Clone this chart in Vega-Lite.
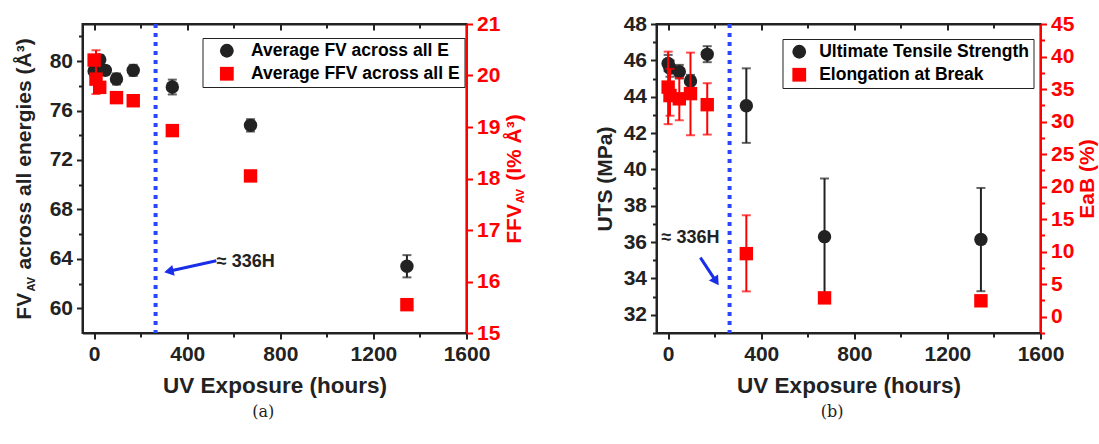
{
  "$schema": "https://vega.github.io/schema/vega-lite/v6.json",
  "background": "white",
  "padding": {"left": 11.5, "top": 12, "right": 0, "bottom": 0},
  "datasets": {
    "fv": [
      {"h": 0, "v": 79.2, "lo": 78.8, "hi": 79.6, "series": "Average FV across all E"},
      {"h": 24, "v": 80.1, "lo": 79.7, "hi": 80.5, "series": "Average FV across all E"},
      {"h": 48, "v": 79.25, "lo": 78.9, "hi": 79.6, "series": "Average FV across all E"},
      {"h": 96, "v": 78.55, "lo": 78.1, "hi": 79.0, "series": "Average FV across all E"},
      {"h": 168, "v": 79.25, "lo": 78.8, "hi": 79.7, "series": "Average FV across all E"},
      {"h": 336, "v": 77.9, "lo": 77.3, "hi": 78.5, "series": "Average FV across all E"},
      {"h": 672, "v": 74.8, "lo": 74.3, "hi": 75.3, "series": "Average FV across all E"},
      {"h": 1344, "v": 63.4, "lo": 62.5, "hi": 64.3, "series": "Average FV across all E"}
    ],
    "ffv": [
      {"h": 0, "v": 20.3, "lo": 20.2, "hi": 20.4, "series": "Average FFV across all E"},
      {"h": 8, "v": 19.93, "lo": 19.64, "hi": 20.49, "series": "Average FFV across all E"},
      {"h": 24, "v": 19.77, "lo": 19.7, "hi": 19.84, "series": "Average FFV across all E"},
      {"h": 96, "v": 19.57, "lo": 19.52, "hi": 19.62, "series": "Average FFV across all E"},
      {"h": 168, "v": 19.51, "lo": 19.46, "hi": 19.56, "series": "Average FFV across all E"},
      {"h": 336, "v": 18.93, "lo": 18.9, "hi": 18.96, "series": "Average FFV across all E"},
      {"h": 672, "v": 18.05, "lo": 18.02, "hi": 18.08, "series": "Average FFV across all E"},
      {"h": 1344, "v": 15.55, "lo": 15.5, "hi": 15.6, "series": "Average FFV across all E"}
    ],
    "uts": [
      {"h": 0, "v": 45.83, "lo": 45.4, "hi": 46.3, "series": "Ultimate Tensile Strength"},
      {"h": 8, "v": 45.56, "lo": 45.1, "hi": 46.0, "series": "Ultimate Tensile Strength"},
      {"h": 48, "v": 45.37, "lo": 45.0, "hi": 45.75, "series": "Ultimate Tensile Strength"},
      {"h": 96, "v": 44.86, "lo": 44.5, "hi": 45.2, "series": "Ultimate Tensile Strength"},
      {"h": 168, "v": 46.33, "lo": 45.9, "hi": 46.78, "series": "Ultimate Tensile Strength"},
      {"h": 336, "v": 43.5, "lo": 41.46, "hi": 45.56, "series": "Ultimate Tensile Strength"},
      {"h": 672, "v": 36.3, "lo": 33.1, "hi": 39.5, "series": "Ultimate Tensile Strength"},
      {"h": 1344, "v": 36.15, "lo": 33.3, "hi": 38.98, "series": "Ultimate Tensile Strength"}
    ],
    "eab": [
      {"h": 0, "v": 35.3, "lo": 29.6, "hi": 40.75, "series": "Elongation at Break"},
      {"h": 8, "v": 34.0, "lo": 30.9, "hi": 38.1, "series": "Elongation at Break"},
      {"h": 48, "v": 33.5, "lo": 30.2, "hi": 36.7, "series": "Elongation at Break"},
      {"h": 96, "v": 34.3, "lo": 27.9, "hi": 40.6, "series": "Elongation at Break"},
      {"h": 168, "v": 32.6, "lo": 28.0, "hi": 35.9, "series": "Elongation at Break"},
      {"h": 336, "v": 9.7, "lo": 3.9, "hi": 15.6, "series": "Elongation at Break"},
      {"h": 672, "v": 2.9, "lo": 2.4, "hi": 3.4, "series": "Elongation at Break"},
      {"h": 1344, "v": 2.45, "lo": 2.0, "hi": 2.9, "series": "Elongation at Break"}
    ],
    "threshold": [
      {"h": 264, "note": "≈ 336H"}
    ]
  },
  "config": {
    "font": "Liberation Sans",
    "view": {"stroke": "#222222", "strokeWidth": 2},
    "axis": {
      "grid": false,
      "tickCount": 60,
      "format": "d",
      "labelFont": "Liberation Sans",
      "labelFontWeight": "bold",
      "labelFontSize": 21,
      "labelColor": "#222222",
      "labelOverlap": false,
      "labelFlush": false,
      "labelPadding": 4,
      "titleFont": "Liberation Sans",
      "titleFontWeight": "bold",
      "titleFontSize": 21,
      "titleColor": "#222222",
      "domainColor": "#222222",
      "domainWidth": 2,
      "tickColor": "#222222",
      "tickWidth": 2
    },
    "legend": {
      "orient": "none",
      "title": null,
      "padding": 4,
      "rowPadding": 4,
      "symbolSize": 190,
      "symbolStrokeWidth": 0,
      "labelFont": "Liberation Sans",
      "labelFontSize": 17.5,
      "labelFontWeight": "bold",
      "labelLimit": 400,
      "strokeColor": "#222222",
      "fillColor": "white"
    }
  },
  "spacing": 66,
  "resolve": {
    "scale": {"color": "independent", "shape": "independent"},
    "legend": {"color": "independent", "shape": "independent"}
  },
  "hconcat": [
    {
      "title": {"text": "(a)", "orient": "bottom", "anchor": "middle", "font": "DejaVu Serif", "fontSize": 16, "fontWeight": "normal", "color": "#222222", "offset": 6, "dx": -6},
      "hconcat": [
        {
          "width": 384,
          "height": 309,
          "title": {"text": "AV", "orient": "left", "frame": "group", "anchor": "start", "offset": -24, "dx": 41.5, "font": "Liberation Sans", "fontSize": 11, "fontWeight": "bold", "color": "#222222"},
          "resolve": {"scale": {"y": "independent"}, "axis": {"x": "independent"}},
          "layer": [
            {
              "encoding": {
                "x": {
                  "field": "h", "type": "quantitative",
                  "scale": {"domain": [-50, 1600], "nice": false, "zero": false},
                  "axis": {
                    "orient": "bottom",
                    "title": "UV Exposure (hours)",
                    "titleFontSize": 22.5,
                    "titlePadding": 10,
                    "format": "d",
                    "values": [0, 200, 400, 600, 800, 1000, 1200, 1400, 1600],
                    "labelExpr": "datum.value % 400 === 0 ? datum.label : ''",
                    "tickSize": {"condition": {"test": "datum.value % 400 === 0", "value": 6}, "value": 4}
                  }
                }
              },
              "layer": [
                {
                  "data": {"name": "fv"},
                  "mark": {"type": "rule", "color": "#222222", "strokeWidth": 2},
                  "encoding": {
                    "y": {
                      "field": "lo", "type": "quantitative",
                      "scale": {"domain": [58, 83], "nice": false, "zero": false},
                      "title": "FV\u00a0\u00a0\u00a0\u00a0across all energies (Å³)",
                      "axis": {
                        "orient": "left",
                        "format": "d",
                        "titlePadding": 15,
                        "values": [60, 62, 64, 66, 68, 70, 72, 74, 76, 78, 80, 82],
                        "labelExpr": "datum.value % 4 === 0 ? datum.label : ''",
                        "tickSize": {"condition": {"test": "datum.value % 4 === 0", "value": 6}, "value": 4}
                      }
                    },
                    "y2": {"field": "hi"}
                  }
                },
                {
                  "data": {"name": "threshold"},
                  "mark": {"type": "rule", "color": "#2a45ff", "strokeWidth": 4, "strokeDash": [4, 5]},
                  "encoding": {}
                },
                {
                  "data": {"name": "fv"},
                  "mark": {"type": "tick", "orient": "horizontal", "color": "#222222", "size": 9, "thickness": 2},
                  "encoding": {"y": {"field": "lo", "type": "quantitative"}}
                },
                {
                  "data": {"name": "fv"},
                  "mark": {"type": "tick", "orient": "horizontal", "color": "#222222", "size": 9, "thickness": 2},
                  "encoding": {"y": {"field": "hi", "type": "quantitative"}}
                },
                {
                  "data": {"name": "fv"},
                  "mark": {"type": "point", "filled": true, "opacity": 1, "size": 180},
                  "encoding": {
                    "y": {"field": "v", "type": "quantitative"},
                    "color": {
                      "field": "series", "type": "nominal",
                      "scale": {"domain": ["Average FV across all E", "Average FFV across all E"], "range": ["#222222", "#ff0000"]},
                      "legend": {
                        "legendX": 120, "legendY": 14,
                        "symbolOffset": 11.6,
                        "labelOffset": 15.5,
                        "encode": {
                          "labels": {"update": {"fill": {"signal": "datum.value === 'Average FFV across all E' ? '#ff0000' : '#222222'"}}},
                          "legend": {"update": {"strokeWidth": {"value": 2.5}}}
                        }
                      }
                    },
                    "shape": {
                      "field": "series", "type": "nominal",
                      "scale": {"domain": ["Average FV across all E", "Average FFV across all E"], "range": ["circle", "square"]},
                      "legend": {
                        "legendX": 120, "legendY": 14,
                        "symbolOffset": 11.6,
                        "labelOffset": 15.5,
                        "encode": {
                          "labels": {"update": {"fill": {"signal": "datum.value === 'Average FFV across all E' ? '#ff0000' : '#222222'"}}},
                          "legend": {"update": {"strokeWidth": {"value": 2.5}}}
                        }
                      }
                    }
                  }
                },
                {
                  "data": {"name": "threshold"},
                  "mark": {"type": "rule", "color": "#1a2ee8", "strokeWidth": 3},
                  "encoding": {
                    "x": {"datum": 525, "type": "quantitative"},
                    "y": {"datum": 63.84, "type": "quantitative"},
                    "x2": {"datum": 321},
                    "y2": {"datum": 62.99}
                  }
                },
                {
                  "data": {"name": "threshold"},
                  "mark": {"type": "point", "shape": "triangle-up", "filled": true, "opacity": 1, "color": "#1a2ee8", "size": 120, "angle": 257.6},
                  "encoding": {
                    "x": {"datum": 321, "type": "quantitative"},
                    "y": {"datum": 62.99, "type": "quantitative"}
                  }
                },
                {
                  "data": {"name": "threshold"},
                  "mark": {"type": "text", "align": "left", "baseline": "middle", "font": "Liberation Sans", "fontSize": 18, "fontWeight": "bold", "color": "#222222"},
                  "encoding": {
                    "x": {"datum": 527, "type": "quantitative"},
                    "y": {"datum": 63.76, "type": "quantitative"},
                    "text": {"field": "note"}
                  }
                }
              ]
            },
            {
              "data": {"name": "ffv"},
              "encoding": {
                "x": {
                  "field": "h", "type": "quantitative",
                  "scale": {"domain": [-50, 1600], "nice": false, "zero": false},
                  "axis": {
                    "orient": "top",
                    "labels": false,
                    "title": "AV",
                    "titleColor": "#ff0000",
                    "titleFontSize": 11,
                    "titleAngle": 270,
                    "titleAlign": "left",
                    "titleBaseline": "top",
                    "titleX": 432,
                    "titleY": 178.8,
                    "values": [0, 200, 400, 600, 800, 1000, 1200, 1400, 1600],
                    "tickSize": {"condition": {"test": "datum.value % 400 === 0", "value": -6}, "value": -4}
                  }
                }
              },
              "layer": [
                {
                  "mark": {"type": "rule", "color": "#ff0000", "strokeWidth": 2},
                  "encoding": {
                    "y": {
                      "field": "lo", "type": "quantitative",
                      "scale": {"domain": [15, 21], "nice": false, "zero": false},
                      "title": "FFV\u00a0\u00a0\u00a0\u00a0(I% Å³)",
                      "axis": {
                        "orient": "right",
                        "format": "d",
                        "titleColor": "#ff0000",
                        "titleAngle": 270,
                        "titleBaseline": "top",
                        "titlePadding": 4,
                        "labelColor": "#ff0000",
                        "domainColor": "#ff0000",
                        "tickColor": "#ff0000",
                        "values": [15, 15.5, 16, 16.5, 17, 17.5, 18, 18.5, 19, 19.5, 20, 20.5, 21],
                        "labelExpr": "datum.value % 1 === 0 ? datum.label : ''",
                        "tickSize": {"condition": {"test": "datum.value % 1 === 0", "value": 6}, "value": 4}
                      }
                    },
                    "y2": {"field": "hi"}
                  }
                },
                {
                  "mark": {"type": "tick", "orient": "horizontal", "color": "#ff0000", "size": 9, "thickness": 2},
                  "encoding": {"y": {"field": "lo", "type": "quantitative"}}
                },
                {
                  "mark": {"type": "tick", "orient": "horizontal", "color": "#ff0000", "size": 9, "thickness": 2},
                  "encoding": {"y": {"field": "hi", "type": "quantitative"}}
                },
                {
                  "mark": {"type": "point", "filled": true, "opacity": 1, "size": 180},
                  "encoding": {
                    "y": {"field": "v", "type": "quantitative"},
                    "color": {"field": "series", "type": "nominal"},
                    "shape": {"field": "series", "type": "nominal"}
                  }
                }
              ]
            }
          ]
        }
      ]
    },
    {
      "title": {"text": "(b)", "orient": "bottom", "anchor": "middle", "font": "DejaVu Serif", "fontSize": 16, "fontWeight": "normal", "color": "#222222", "offset": 6, "dx": -14},
      "hconcat": [
        {
          "width": 384,
          "height": 309,
          "resolve": {"scale": {"y": "independent"}, "axis": {"x": "independent"}},
          "layer": [
            {
              "encoding": {
                "x": {
                  "field": "h", "type": "quantitative",
                  "scale": {"domain": [-50, 1600], "nice": false, "zero": false},
                  "axis": {
                    "orient": "bottom",
                    "title": "UV Exposure (hours)",
                    "titleFontSize": 22.5,
                    "titlePadding": 10,
                    "format": "d",
                    "values": [0, 200, 400, 600, 800, 1000, 1200, 1400, 1600],
                    "labelExpr": "datum.value % 400 === 0 ? datum.label : ''",
                    "tickSize": {"condition": {"test": "datum.value % 400 === 0", "value": 6}, "value": 4}
                  }
                }
              },
              "layer": [
                {
                  "data": {"name": "uts"},
                  "mark": {"type": "rule", "color": "#222222", "strokeWidth": 2},
                  "encoding": {
                    "y": {
                      "field": "lo", "type": "quantitative",
                      "scale": {"domain": [31, 48], "nice": false, "zero": false},
                      "title": "UTS (MPa)",
                      "axis": {
                        "orient": "left",
                        "format": "d",
                        "titlePadding": 8,
                        "values": [31, 32, 33, 34, 35, 36, 37, 38, 39, 40, 41, 42, 43, 44, 45, 46, 47, 48],
                        "labelExpr": "datum.value % 2 === 0 ? datum.label : ''",
                        "tickSize": {"condition": {"test": "datum.value % 2 === 0", "value": 6}, "value": 4}
                      }
                    },
                    "y2": {"field": "hi"}
                  }
                },
                {
                  "data": {"name": "threshold"},
                  "mark": {"type": "rule", "color": "#2a45ff", "strokeWidth": 4, "strokeDash": [4, 5]},
                  "encoding": {}
                },
                {
                  "data": {"name": "uts"},
                  "mark": {"type": "tick", "orient": "horizontal", "color": "#222222", "size": 9, "thickness": 2},
                  "encoding": {"y": {"field": "lo", "type": "quantitative"}}
                },
                {
                  "data": {"name": "uts"},
                  "mark": {"type": "tick", "orient": "horizontal", "color": "#222222", "size": 9, "thickness": 2},
                  "encoding": {"y": {"field": "hi", "type": "quantitative"}}
                },
                {
                  "data": {"name": "uts"},
                  "mark": {"type": "point", "filled": true, "opacity": 1, "size": 180},
                  "encoding": {
                    "y": {"field": "v", "type": "quantitative"},
                    "color": {
                      "field": "series", "type": "nominal",
                      "scale": {"domain": ["Ultimate Tensile Strength", "Elongation at Break"], "range": ["#222222", "#ff0000"]},
                      "legend": {
                        "legendX": 126, "legendY": 15,
                        "symbolOffset": 4,
                        "labelOffset": 11.2,
                        "encode": {
                          "labels": {"update": {"fill": {"signal": "datum.value === 'Elongation at Break' ? '#ff0000' : '#222222'"}}},
                          "legend": {"update": {"strokeWidth": {"value": 2.5}}}
                        }
                      }
                    },
                    "shape": {
                      "field": "series", "type": "nominal",
                      "scale": {"domain": ["Ultimate Tensile Strength", "Elongation at Break"], "range": ["circle", "square"]},
                      "legend": {
                        "legendX": 126, "legendY": 15,
                        "symbolOffset": 4,
                        "labelOffset": 11.2,
                        "encode": {
                          "labels": {"update": {"fill": {"signal": "datum.value === 'Elongation at Break' ? '#ff0000' : '#222222'"}}},
                          "legend": {"update": {"strokeWidth": {"value": 2.5}}}
                        }
                      }
                    }
                  }
                },
                {
                  "data": {"name": "threshold"},
                  "mark": {"type": "rule", "color": "#1a2ee8", "strokeWidth": 3},
                  "encoding": {
                    "x": {"datum": 138.5, "type": "quantitative"},
                    "y": {"datum": 35.15, "type": "quantitative"},
                    "x2": {"datum": 206},
                    "y2": {"datum": 33.84}
                  }
                },
                {
                  "data": {"name": "threshold"},
                  "mark": {"type": "point", "shape": "triangle-up", "filled": true, "opacity": 1, "color": "#1a2ee8", "size": 120, "angle": 146.5},
                  "encoding": {
                    "x": {"datum": 206, "type": "quantitative"},
                    "y": {"datum": 33.84, "type": "quantitative"}
                  }
                },
                {
                  "data": {"name": "threshold"},
                  "mark": {"type": "text", "align": "left", "baseline": "middle", "font": "Liberation Sans", "fontSize": 18, "fontWeight": "bold", "color": "#222222"},
                  "encoding": {
                    "x": {"datum": -28, "type": "quantitative"},
                    "y": {"datum": 36.21, "type": "quantitative"},
                    "text": {"field": "note"}
                  }
                }
              ]
            },
            {
              "data": {"name": "eab"},
              "encoding": {
                "x": {
                  "field": "h", "type": "quantitative",
                  "scale": {"domain": [-50, 1600], "nice": false, "zero": false},
                  "axis": {
                    "orient": "top",
                    "labels": false,
                    "title": null,
                    "values": [0, 200, 400, 600, 800, 1000, 1200, 1400, 1600],
                    "tickSize": {"condition": {"test": "datum.value % 400 === 0", "value": -6}, "value": -4}
                  }
                }
              },
              "layer": [
                {
                  "mark": {"type": "rule", "color": "#ff0000", "strokeWidth": 2},
                  "encoding": {
                    "y": {
                      "field": "lo", "type": "quantitative",
                      "scale": {"domain": [-2.5, 45], "nice": false, "zero": false},
                      "title": "EaB (%)",
                      "axis": {
                        "orient": "right",
                        "format": "d",
                        "titleColor": "#ff0000",
                        "titleAngle": 270,
                        "titleBaseline": "top",
                        "titlePadding": 3,
                        "labelColor": "#ff0000",
                        "domainColor": "#ff0000",
                        "tickColor": "#ff0000",
                        "values": [-2.5, 0, 2.5, 5, 7.5, 10, 12.5, 15, 17.5, 20, 22.5, 25, 27.5, 30, 32.5, 35, 37.5, 40, 42.5, 45],
                        "labelExpr": "datum.value % 5 === 0 ? datum.label : ''",
                        "tickSize": {"condition": {"test": "datum.value % 5 === 0", "value": 6}, "value": 4}
                      }
                    },
                    "y2": {"field": "hi"}
                  }
                },
                {
                  "mark": {"type": "tick", "orient": "horizontal", "color": "#ff0000", "size": 9, "thickness": 2},
                  "encoding": {"y": {"field": "lo", "type": "quantitative"}}
                },
                {
                  "mark": {"type": "tick", "orient": "horizontal", "color": "#ff0000", "size": 9, "thickness": 2},
                  "encoding": {"y": {"field": "hi", "type": "quantitative"}}
                },
                {
                  "mark": {"type": "point", "filled": true, "opacity": 1, "size": 180},
                  "encoding": {
                    "y": {"field": "v", "type": "quantitative"},
                    "color": {"field": "series", "type": "nominal"},
                    "shape": {"field": "series", "type": "nominal"}
                  }
                }
              ]
            }
          ]
        }
      ]
    }
  ]
}
